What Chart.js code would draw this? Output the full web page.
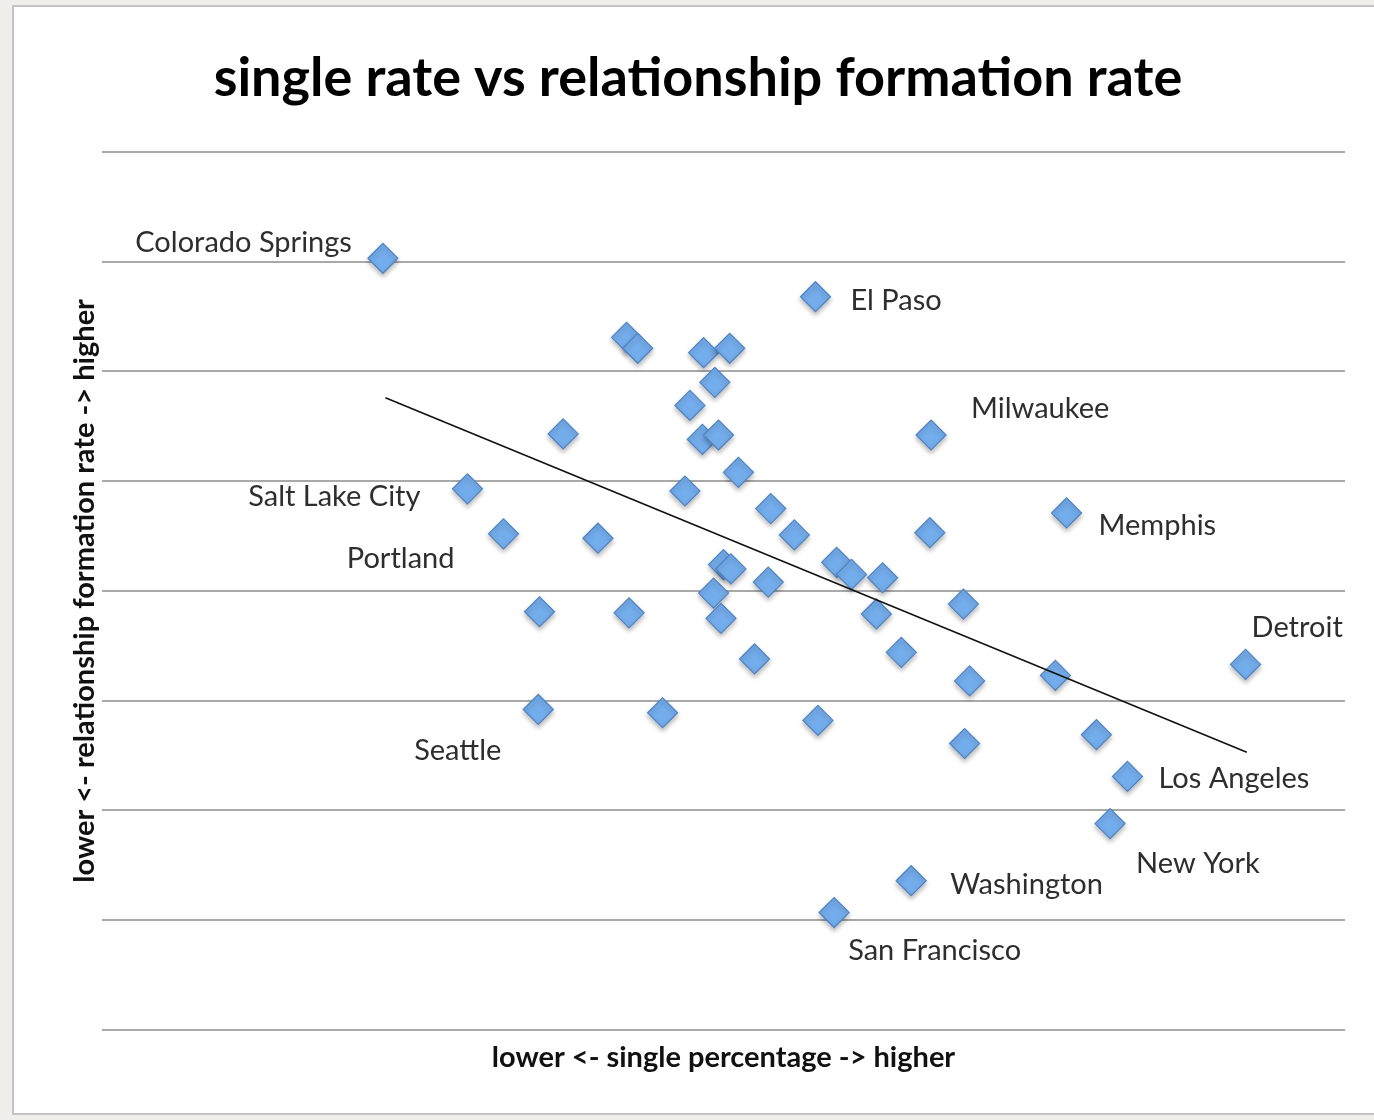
<!DOCTYPE html>
<html>
<head>
<meta charset="utf-8">
<script src="https://cdn.jsdelivr.net/npm/chart.js@4.4.1/dist/chart.umd.min.js"></script>
<style>
  html, body { margin:0; padding:0; background:#efeeea; }
  body { width:1374px; height:1120px; position:relative; overflow:hidden; }
  .card {
    position:absolute; left:12px; top:5px; width:1370px; height:1110px;
    background:#fff; border:2px solid #c4c4c4; box-sizing:border-box;
  }
  .wrap { position:absolute; left:0; top:0; width:1374px; height:1120px; }
</style>
</head>
<body>
<div class="card"></div>
<div class="wrap"><canvas id="chart"></canvas></div>
<script>
// ============ DATA ============
// single percentage (no scale shown) vs relationship formation rate (grid units)
var singleX = [22.6, 57.4, 42.2, 43.1, 48.4, 50.5, 49.3, 47.3, 37.1, 48.3,
               49.6, 66.7, 51.2, 29.4, 46.9, 53.8, 77.6, 32.3, 39.9, 55.7,
               66.6, 50.0, 50.6, 59.1, 60.3, 62.8, 53.6, 49.2, 69.3, 35.2,
               42.4, 49.8, 62.3, 92.0, 52.5, 64.3, 69.8, 76.7, 35.1, 45.1,
               57.6, 80.0, 69.4, 82.5, 81.1, 65.1, 58.9];
var formationY = [7.03, 6.68, 6.31, 6.21, 6.17, 6.21, 5.90, 5.69, 5.43, 5.38,
                  5.42, 5.42, 5.08, 4.93, 4.91, 4.75, 4.71, 4.52, 4.48, 4.51,
                  4.53, 4.24, 4.20, 4.26, 4.15, 4.12, 4.08, 3.98, 3.88, 3.81,
                  3.80, 3.75, 3.79, 3.33, 3.38, 3.44, 3.18, 3.23, 2.92, 2.89,
                  2.82, 2.69, 2.61, 2.31, 1.88, 1.36, 1.07];
var cityNames = ['Colorado Springs', 'El Paso', '', '', '', '', '', '', '', '',
                 '', 'Milwaukee', '', 'Salt Lake City', '', '', 'Memphis', 'Portland', '', '',
                 '', '', '', '', '', '', '', '', '', '',
                 '', '', '', 'Detroit', '', '', '', '', 'Seattle', '',
                 '', '', '', 'Los Angeles', 'New York', 'Washington', 'San Francisco'];
var trendX = [22.8, 92.1];
var trendY = [5.76, 2.53];

// ============ ESTILO DOS RÓTULOS ============
// dx, dy relativos ao ponto; align = lado do texto
var labelPos = {
  'Colorado Springs': { dx: -31, dy: -16, align: 'right' },
  'El Paso':          { dx: 35,  dy: 4,   align: 'left' },
  'Milwaukee':        { dx: 40,  dy: -26, align: 'left' },
  'Salt Lake City':   { dx: -47, dy: 8,   align: 'right' },
  'Portland':         { dx: -49, dy: 25,  align: 'right' },
  'Memphis':          { dx: 32,  dy: 13,  align: 'left' },
  'Detroit':          { dx: 6,   dy: -37, align: 'left' },
  'Seattle':          { dx: -37, dy: 41,  align: 'right' },
  'Los Angeles':      { dx: 31,  dy: 2,   align: 'left' },
  'New York':         { dx: 26,  dy: 40,  align: 'left' },
  'Washington':       { dx: 39,  dy: 4,   align: 'left' },
  'San Francisco':    { dx: 14,  dy: 38,  align: 'left' }
};

var pontos = singleX.map(function(x, i) { return { x: x, y: formationY[i] }; });
var tendencia = trendX.map(function(x, i) { return { x: x, y: trendY[i] }; });

var cityLabels = {
  id: 'cityLabels',
  afterDatasetsDraw: function(chart) {
    var ctx = chart.ctx;
    var meta = chart.getDatasetMeta(1);
    ctx.save();
    ctx.font = '29px Lato';
    ctx.fillStyle = '#2e2e2e';
    ctx.textBaseline = 'middle';
    cityNames.forEach(function(nome, i) {
      if (!nome) return;
      var p = meta.data[i];
      var o = labelPos[nome];
      ctx.textAlign = o.align;
      ctx.fillText(nome, p.x + o.dx, p.y + o.dy);
    });
    ctx.restore();
  }
};

var sombra = {
  id: 'sombra',
  beforeDatasetDraw: function(chart, args) {
    if (args.index !== 1) return;
    var ctx = chart.ctx;
    ctx.save();
    ctx.shadowColor = 'rgba(0,0,0,0.28)';
    ctx.shadowBlur = 5;
    ctx.shadowOffsetY = 3;
  },
  afterDatasetDraw: function(chart, args) {
    if (args.index !== 1) return;
    chart.ctx.restore();
  }
};

new Chart(document.getElementById('chart'), {
  type: 'scatter',
  data: {
    datasets: [{
      type: 'line',
      data: tendencia,
      borderColor: '#111',
      borderWidth: 1.6,
      pointRadius: 0,
      fill: false
    }, {
      data: pontos,
      pointStyle: 'rectRot',
      pointRadius: 15,
      pointHoverRadius: 15,
      backgroundColor: '#74adec',
      borderColor: '#4f84c4',
      borderWidth: 1.2
    }]
  },
  options: {
    responsive: true,
    maintainAspectRatio: false,
    animation: false,
    layout: { padding: { left: 51, right: 29, top: 0, bottom: 0 } },
    plugins: {
      legend: { display: false },
      tooltip: { enabled: false },
      title: {
        display: true,
        text: 'single rate vs relationship formation rate',
        color: '#000',
        font: { family: 'Lato', size: 54, weight: 'bold' },
        padding: { top: 46, bottom: 41 }
      }
    },
    scales: {
      x: {
        type: 'linear',
        min: 0, max: 100,
        grid: { display: false },
        border: { display: false },
        ticks: { display: false },
        title: {
          display: true,
          text: 'lower <- single percentage -> higher',
          color: '#111',
          font: { family: 'Lato', size: 29, weight: 'bold' },
          padding: { top: 0, bottom: 45 }
        },
        afterFit: function(s) { s.height = 90; }
      },
      y: {
        min: 0, max: 8,
        grid: { color: '#a9a9a9', lineWidth: 2, drawTicks: false },
        border: { display: false },
        ticks: { display: false, stepSize: 1 },
        title: {
          display: true,
          text: 'lower <- relationship formation rate -> higher',
          color: '#111',
          font: { family: 'Lato', size: 29, weight: 'bold' },
          padding: { top: 16, bottom: 0 }
        },
        afterFit: function(s) { s.width = 51; }
      }
    }
  },
  plugins: [sombra, cityLabels]
});
</script>
</body>
</html>
